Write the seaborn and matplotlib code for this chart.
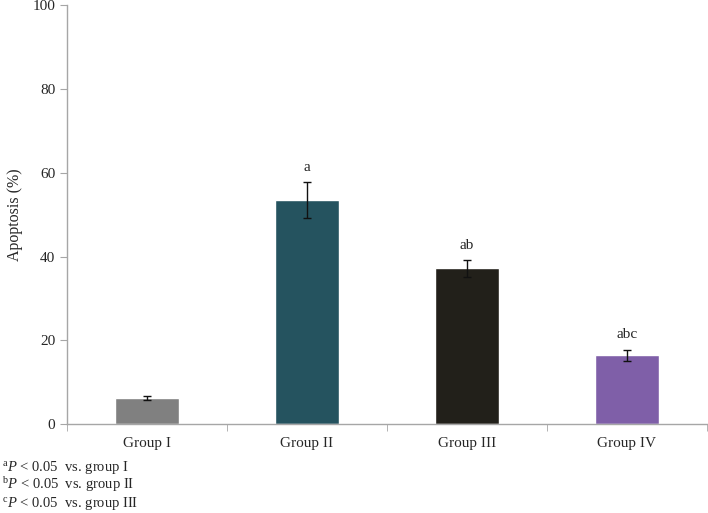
import numpy as np
import pandas as pd
import seaborn as sns
import matplotlib.pyplot as plt

groups = ["Group I", "Group II", "Group III", "Group IV"]
apoptosis = [6.3, 53.5, 37.2, 16.5]
errors = [0.4, 4.2, 2.0, 1.3]
labels = ["", "a", "ab", "abc"]
colors = ["#808080", "#25535f", "#22201a", "#7f5fa8"]
footnotes = [("a", "vs. group I"), ("b", "vs. group II"), ("c", "vs. group III")]

sns.set_style("white")
plt.rcParams["font.family"] = ["Liberation Serif", "DejaVu Serif"]
plt.rcParams["mathtext.fontset"] = "custom"
plt.rcParams["mathtext.rm"] = "Liberation Serif"
plt.rcParams["mathtext.it"] = "Liberation Serif:italic"

df = pd.DataFrame({"group": groups, "value": apoptosis})

fig = plt.figure(figsize=(7.08, 5.13), dpi=100)
ax = fig.add_axes([0.095, 0.173, 0.903, 0.817])
sns.barplot(data=df, x="group", y="value", hue="group", palette=colors,
            width=0.40, legend=False, ax=ax, saturation=1)
x = np.arange(len(groups))
ax.errorbar(x, apoptosis, yerr=errors, fmt="none", ecolor="#111111",
            elinewidth=1, capsize=3, capthick=1)
for xi, v, e, lab in zip(x, apoptosis, errors, labels):
    if lab:
        ax.text(xi, v + e + 3.5, lab, ha="center", va="center", fontsize=11)

ax.set_ylim(0, 100)
ax.set_xlim(-0.5, 3.5)
ax.set_yticks(range(0, 101, 20))
ax.set_xticks(np.arange(-0.5, 4, 1), minor=True)
ax.tick_params(axis="x", which="major", length=0, labelsize=11, pad=9)
ax.tick_params(axis="x", which="minor", length=5, color="#a6a6a6", direction="out", bottom=True)
ax.tick_params(axis="y", length=5, color="#a6a6a6", direction="out", left=True, labelsize=11)
ax.set_xlabel("")
ax.set_ylabel("Apoptosis (%)", fontsize=11.5, labelpad=7)
for s in ["top", "right"]:
    ax.spines[s].set_visible(False)
for s in ["left", "bottom"]:
    ax.spines[s].set_color("#a6a6a6")
    ax.spines[s].set_linewidth(1)

for i, (sup, txt) in enumerate(footnotes):
    fig.text(0.003, 1 - (467 + 18 * i) / 513,
             r"$^{\mathrm{%s}}\mathit{P}$ < 0.05  %s" % (sup, txt),
             ha="left", va="center", fontsize=10.5)

fig.savefig("out.png", dpi=100)
